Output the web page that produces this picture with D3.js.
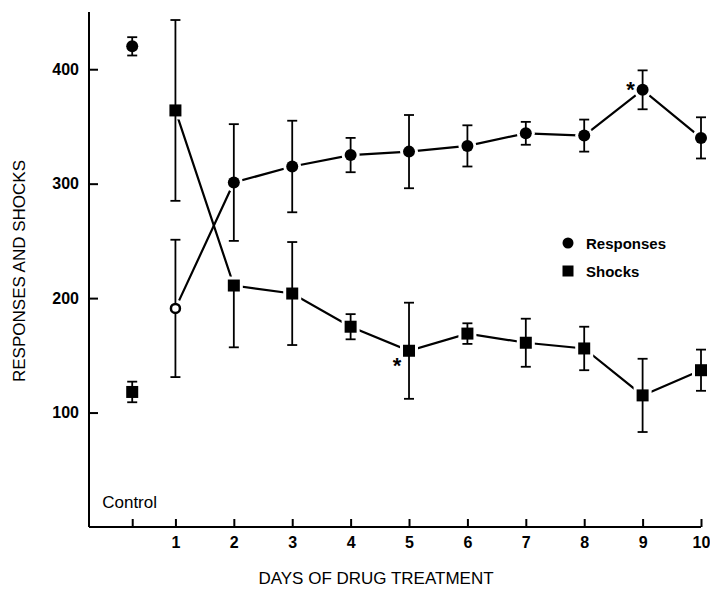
<!DOCTYPE html>
<html>
<head>
<meta charset="utf-8">
<script src="https://cdn.jsdelivr.net/npm/d3@7"></script>
<style>
  body { margin: 0; background: #fff; }
  svg { display: block; font-family: "Liberation Sans", Arial, sans-serif; }
  .axis path, .axis line { stroke: #000; stroke-width: 2; }
  .axis text { font-size: 16px; font-weight: bold; fill: #000; }
  .line { fill: none; stroke: #000; stroke-width: 2.2; }
  .err { stroke: #000; stroke-width: 1.8; }
  .label { font-size: 17px; fill: #000; }
  .star { font-size: 22px; font-weight: bold; fill: #000; }
</style>
</head>
<body>
<div id="chart"></div>
<script>
// Days of drug treatment; "Control" sits just right of the y axis
var controlPos = 0.26;
var days = [1, 2, 3, 4, 5, 6, 7, 8, 9, 10];
var yTicks = [100, 200, 300, 400];

// Responses: mean and half error bar
var respControl = 420, respControlErr = 8;
var respMean = [191, 301, 315, 325, 328, 333, 344, 342, 382, 340];
var respErr  = [60, 51, 40, 15, 32, 18, 10, 14, 17, 18];

// Shocks: mean and half error bar
var shockControl = 118, shockControlErr = 9;
var shockMean = [364, 211, 204, 175, 154, 169, 161, 156, 115, 137];
var shockErr  = [79, 54, 45, 11, 42, 9, 21, 19, 32, 18];
// days whose upper shock bar is left out in the original figure
var shockNoUpper = [2];

// days flagged with an asterisk
var starResp = 9, starShock = 5;

var width = 710, height = 590;
var x = d3.scaleLinear().domain([-0.48, 10]).range([89, 701]);
var y = d3.scaleLinear().domain([0, 450]).range([527, 12]);

var svg = d3.select("#chart").append("svg")
    .attr("width", width)
    .attr("height", height);

// build point lists
var resp = [{pos: controlPos, v: respControl, e: respControlErr, up: true}];
var shock = [{pos: controlPos, v: shockControl, e: shockControlErr, up: true}];
days.forEach(function (d, i) {
    resp.push({pos: d, v: respMean[i], e: respErr[i], open: d === 1, up: true});
    shock.push({pos: d, v: shockMean[i], e: shockErr[i], up: shockNoUpper.indexOf(d) < 0});
});

// Axes
var xAxis = d3.axisBottom(x)
    .tickValues([controlPos].concat(days))
    .tickSize(-8)
    .tickPadding(10)
    .tickFormat(function (d) { return d === controlPos ? "" : d; });
svg.append("g").attr("class", "x axis")
    .attr("transform", "translate(0," + y(0) + ")")
    .call(xAxis)
    .call(function (g) { g.select(".domain").attr("d", "M" + x(-0.48) + ",0H" + x(10)); });

var yAxis = d3.axisLeft(y)
    .tickValues(yTicks)
    .tickSize(-9)
    .tickPadding(10);
svg.append("g").attr("class", "y axis")
    .attr("transform", "translate(" + x(-0.48) + ",0)")
    .call(yAxis)
    .call(function (g) { g.select(".domain").attr("d", "M0," + y(450) + "V" + y(0)); });

// Connecting lines (days only, not control)
var line = d3.line()
    .x(function (d) { return x(d.pos); })
    .y(function (d) { return y(d.v); });
svg.append("path").attr("class", "line").attr("d", line(resp.slice(1)));
svg.append("path").attr("class", "line").attr("d", line(shock.slice(1)));

// white halos so lines stop short of the markers
svg.selectAll(".haloC").data(resp).enter().append("circle")
    .attr("cx", function (d) { return x(d.pos); })
    .attr("cy", function (d) { return y(d.v); })
    .attr("r", 9).attr("fill", "#fff");
svg.selectAll(".haloS").data(shock).enter().append("rect")
    .attr("x", function (d) { return x(d.pos) - 9; })
    .attr("y", function (d) { return y(d.v) - 9; })
    .attr("width", 18).attr("height", 18).attr("fill", "#fff");

// Error bars
function errorBars(data) {
    var g = svg.append("g").selectAll("g").data(data).enter().append("g")
        .attr("class", "err")
        .attr("transform", function (d) { return "translate(" + x(d.pos) + ",0)"; });
    g.append("line")
        .attr("x1", 0).attr("x2", 0)
        .attr("y1", function (d) { return y(d.up ? d.v + d.e : d.v); })
        .attr("y2", function (d) { return y(d.v - d.e); });
    g.filter(function (d) { return d.up; }).append("line")
        .attr("x1", -5).attr("x2", 5)
        .attr("y1", function (d) { return y(d.v + d.e); })
        .attr("y2", function (d) { return y(d.v + d.e); });
    g.append("line")
        .attr("x1", -5).attr("x2", 5)
        .attr("y1", function (d) { return y(d.v - d.e); })
        .attr("y2", function (d) { return y(d.v - d.e); });
}
errorBars(resp);
errorBars(shock);

// Markers
svg.selectAll(".dotR").data(resp).enter().append("circle")
    .attr("cx", function (d) { return x(d.pos); })
    .attr("cy", function (d) { return y(d.v); })
    .attr("r", function (d) { return d.open ? 4.5 : 6; })
    .attr("fill", function (d) { return d.open ? "#fff" : "#000"; })
    .attr("stroke", "#000")
    .attr("stroke-width", function (d) { return d.open ? 2.5 : 0; });
svg.selectAll(".dotS").data(shock).enter().append("rect")
    .attr("x", function (d) { return x(d.pos) - 6; })
    .attr("y", function (d) { return y(d.v) - 6; })
    .attr("width", 12).attr("height", 12)
    .attr("fill", "#000");

// Significance asterisks
svg.append("text").attr("class", "star")
    .attr("x", x(starResp) - 12).attr("y", y(respMean[starResp - 1]) + 7)
    .attr("text-anchor", "middle").text("*");
svg.append("text").attr("class", "star")
    .attr("x", x(starShock) - 12).attr("y", y(shockMean[starShock - 1]) + 22)
    .attr("text-anchor", "middle").text("*");

// Control label
svg.append("text").attr("class", "label")
    .attr("x", x(controlPos) - 30).attr("y", 508)
    .text("Control");

// Axis titles
svg.append("text").attr("class", "label")
    .attr("x", 376).attr("y", 584)
    .attr("text-anchor", "middle")
    .text("DAYS OF DRUG TREATMENT");
svg.append("text").attr("class", "label")
    .attr("transform", "translate(25,271) rotate(-90)")
    .attr("text-anchor", "middle")
    .text("RESPONSES AND SHOCKS");

// Legend
var legend = svg.append("g").attr("transform", "translate(568,243)");
legend.append("circle").attr("cx", 0).attr("cy", 0).attr("r", 5.5).attr("fill", "#000");
legend.append("text").attr("x", 18).attr("y", 5.5)
    .style("font-size", "15px").style("font-weight", "bold").text("Responses");
legend.append("rect").attr("x", -5.5).attr("y", 22.5).attr("width", 11).attr("height", 11).attr("fill", "#000");
legend.append("text").attr("x", 18).attr("y", 34)
    .style("font-size", "15px").style("font-weight", "bold").text("Shocks");
</script>
</body>
</html>
